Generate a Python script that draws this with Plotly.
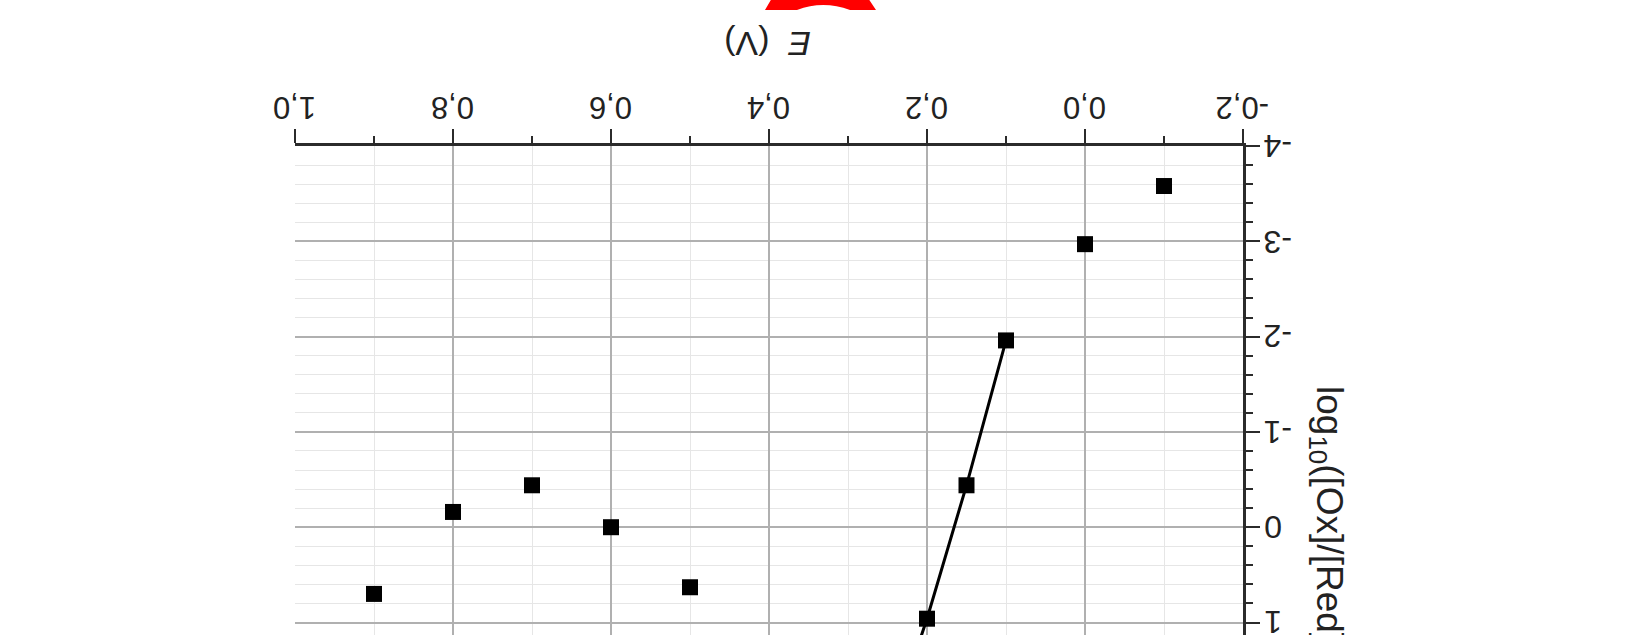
import plotly.graph_objects as go

# ---- data ----
E_points = [-0.1, 0.0, 0.5, 0.6, 0.7, 0.8, 0.9]
logratio_points = [-3.58, -2.97, 0.63, 0.0, -0.44, -0.16, 0.70]

E_line = [0.1, 0.15, 0.2, 0.25]
logratio_line = [-1.96, -0.44, 0.96, 2.2]

x_tickvals = [1.0, 0.8, 0.6, 0.4, 0.2, 0.0, -0.2]
x_ticktext = ["1,0", "0,8", "0,6", "0,4", "0,2", "0,0", "-0,2"]
y_tickvals = [-4, -3, -2, -1, 0, 1]
y_ticktext = ["-4", "-3", "-2", "-1", "0", "1"]

# ---- layout geometry (pixels) ----
W, H = 1650, 635
L, R, T, B = 295, 407, 146, 0
PW, PH = W - L - R, H - T - B


def px(x):
    return (x - L) / PW


def py(y):
    return (H - B - y) / PH


AX = "#2b2b2b"
MAJ_GRID = "#b0b0b0"
MIN_GRID = "#e6e6e6"
FONT = "Liberation Sans"
TXT = "#222222"

fig = go.Figure()
fig.add_trace(go.Scatter(
    x=E_line, y=logratio_line, mode="lines+markers",
    line=dict(color="black", width=3),
    marker=dict(symbol="square", size=16, color="black"),
    showlegend=False, cliponaxis=True,
))
fig.add_trace(go.Scatter(
    x=E_points, y=logratio_points, mode="markers",
    marker=dict(symbol="square", size=16, color="black"),
    showlegend=False,
))

annotations = []
# x tick labels (upside-down), placed on the tick positions
for v, t in zip(x_tickvals, x_ticktext):
    annotations.append(dict(
        text=t, textangle=180, showarrow=False,
        xref="x", yref="paper", x=v, y=py(108),
        xanchor="center", yanchor="middle",
        font=dict(size=31, family=FONT, color=TXT)))
# y tick labels (upside-down), placed on the tick positions
for v, t in zip(y_tickvals, y_ticktext):
    annotations.append(dict(
        text=t, textangle=180, showarrow=False,
        xref="paper", yref="y", x=px(1262), y=v,
        xanchor="left", yanchor="middle",
        font=dict(size=32, family=FONT, color=TXT)))
annotations += [
    dict(text="<i>E</i>\u00a0\u00a0(V)", textangle=180, showarrow=False,
         xref="paper", yref="paper", x=px(768), y=py(43.5),
         xanchor="center", yanchor="middle",
         font=dict(size=34, family=FONT, color=TXT)),
    dict(text="log<sub>10</sub>([Ox]/[Red])", textangle=90, showarrow=False,
         xref="paper", yref="paper", x=px(1327), y=py(520),
         xanchor="center", yanchor="middle",
         font=dict(size=37, family=FONT, color=TXT)),
]

fig.update_layout(
    width=W, height=H,
    margin=dict(l=L, r=R, t=T, b=B, pad=0),
    paper_bgcolor="white", plot_bgcolor="white",
    font=dict(family=FONT, color=TXT),
    xaxis=dict(
        side="top", range=[1.0, -0.2], automargin=False,
        tickmode="array", tickvals=x_tickvals, showticklabels=False,
        ticks="outside", ticklen=14, tickwidth=2, tickcolor=AX,
        showline=True, linecolor=AX, linewidth=2.5, mirror=False,
        showgrid=True, gridcolor=MAJ_GRID, gridwidth=1.5,
        zeroline=False,
        minor=dict(tickmode="linear", tick0=0, dtick=0.1, ticks="outside",
                   ticklen=7, tickwidth=2, tickcolor=AX,
                   showgrid=True, gridcolor=MIN_GRID, gridwidth=1),
    ),
    yaxis=dict(
        side="right", range=[1.131, -4], automargin=False,
        tickmode="array", tickvals=y_tickvals, showticklabels=False,
        ticks="outside", ticklen=14, tickwidth=2, tickcolor=AX,
        showline=True, linecolor=AX, linewidth=2.5, mirror=False,
        showgrid=True, gridcolor=MAJ_GRID, gridwidth=1.5,
        zeroline=False,
        minor=dict(tickmode="linear", tick0=0, dtick=0.2, ticks="outside",
                   ticklen=7, tickwidth=2, tickcolor=AX,
                   showgrid=True, gridcolor=MIN_GRID, gridwidth=1),
    ),
    annotations=annotations,
    shapes=[
        dict(type="path", xref="paper", yref="paper",
             path=(f"M{px(772)},{py(-2)} L{px(868)},{py(-2)} L{px(876)},{py(10)} "
                   f"L{px(850)},{py(10)} Q{px(823)},{py(0)} {px(797)},{py(10)} "
                   f"L{px(765)},{py(10)} Z"),
             fillcolor="#ff0000", line=dict(width=0), layer="above"),
    ],
)

fig.write_html(
    "out.html",
    config={"displayModeBar": False},
    post_script="document.body.style.margin='0';document.body.style.overflow='hidden';",
)
